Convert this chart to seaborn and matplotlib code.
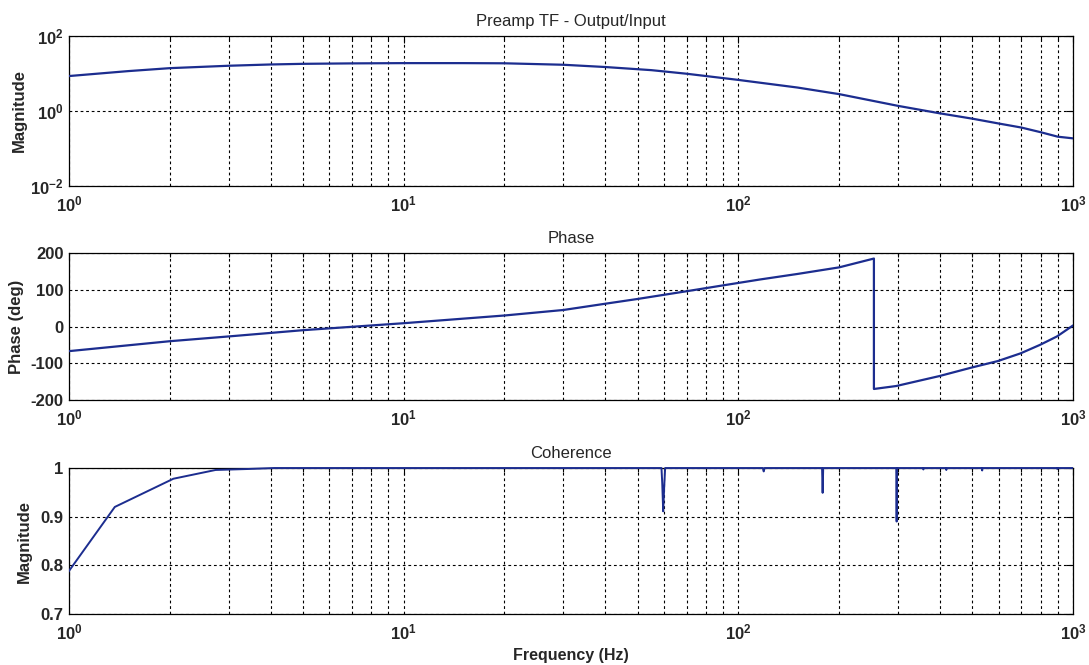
import numpy as np
import pandas as pd
import matplotlib
matplotlib.use("Agg")
import matplotlib.pyplot as plt
import seaborn as sns
from matplotlib.patches import Rectangle
from matplotlib.ticker import FixedLocator, FixedFormatter, NullLocator, LogLocator, NullFormatter

# ---------------- data ----------------
mag_freq = [1, 1.5, 2, 3, 4, 5, 7, 10, 15, 20, 30, 40, 55, 70, 100, 150, 200,
            300, 400, 500, 600, 700, 800, 900, 1000]
mag_vals = [8.5, 11.5, 13.8, 16.0, 17.3, 18.0, 18.5, 18.8, 18.8, 18.6, 17.0, 14.8, 12.2,
            9.8, 6.7, 4.2, 2.8, 1.36, 0.86, 0.62, 0.46, 0.36, 0.27, 0.205, 0.185]

phase_freq = [1, 2, 3, 5, 10, 20, 30, 40, 50, 70, 90, 116, 150, 200, 254, 254,
              296, 398, 496, 596, 697, 796, 895, 1000]
phase_vals = [-67, -40, -27, -10, 9, 30, 45, 62, 75, 96, 112, 128, 143, 161, 185, -170,
              -162, -135, -112, -94, -73, -50, -27, 3]

coh_freq = [0.684, 1.37, 2.05, 2.74, 3.42, 4.10, 10, 30, 58.9, 59.2, 59.6, 60.0, 60.4,
            118.3, 119, 119.7, 177.8, 178.5, 179.2, 296.2, 297, 297.8, 356.3, 357, 357.7,
            417.3, 418, 418.7, 534.3, 535, 535.7, 896.3, 897, 897.7, 1000]
coh_vals = [0.63, 0.92, 0.978, 0.996, 0.998, 1.0, 1.0, 1.0, 1.0, 0.97, 0.911, 0.96, 1.0,
            1.0, 0.993, 1.0, 1.0, 0.949, 1.0, 1.0, 0.89, 1.0, 1.0, 0.997, 1.0, 1.0, 0.996, 1.0,
            1.0, 0.995, 1.0, 1.0, 0.998, 1.0, 1.0]

x_ticks = [1, 10, 100, 1000]
x_ticklabels = [r"$10^{0}$", r"$10^{1}$", r"$10^{2}$", r"$10^{3}$"]
mag_yticks = [1e-2, 1, 1e2]
mag_yticklabels = [r"$10^{-2}$", r"$10^{0}$", r"$10^{2}$"]
phase_yticks = [-200, -100, 0, 100, 200]
phase_yticklabels = ["-200", "-100", "0", "100", "200"]
coh_yticks = [0.7, 0.8, 0.9, 1.0]
coh_yticklabels = ["0.7", "0.8", "0.9", "1"]

titles = ["Preamp TF - Output/Input", "Phase", "Coherence"]
ylabels = ["Magnitude", "Phase (deg)", "Magnitude"]
xlabel = "Frequency (Hz)"

# ---------------- style ----------------
sns.set_style("white")
plt.rcParams["font.family"] = ["Liberation Sans", "DejaVu Sans"]
plt.rcParams["mathtext.fontset"] = "custom"
plt.rcParams["mathtext.rm"] = "Liberation Sans:bold"
plt.rcParams["mathtext.bf"] = "Liberation Sans:bold"
plt.rcParams["mathtext.it"] = "Liberation Sans:bold"
plt.rcParams["mathtext.default"] = "bf"
plt.rcParams["axes.unicode_minus"] = False

LINE = "#1c2d8f"
GRID = dict(color="black", linestyle=(0, (2.5, 2.5)), linewidth=0.8)

fig = plt.figure(figsize=(10.89, 6.65), dpi=100)
fig.patch.set_facecolor("white")
ax1 = fig.add_axes([0.0634, 0.7205, 0.9220, 0.2255])
ax2 = fig.add_axes([0.0634, 0.3985, 0.9220, 0.2210])
ax3 = fig.add_axes([0.0634, 0.0767, 0.9220, 0.2195])

df_mag = pd.DataFrame({"f": mag_freq, "v": mag_vals})
df_ph = pd.DataFrame({"f": phase_freq, "v": phase_vals})
df_coh = pd.DataFrame({"f": coh_freq, "v": coh_vals})

sns.lineplot(data=df_mag, x="f", y="v", ax=ax1, color=LINE, lw=1.6,
             estimator=None, sort=False)
sns.lineplot(data=df_ph, x="f", y="v", ax=ax2, color=LINE, lw=1.6,
             estimator=None, sort=False)
sns.lineplot(data=df_coh, x="f", y="v", ax=ax3, color=LINE, lw=1.4,
             estimator=None, sort=False)

ax1.set_yscale("log")
ax1.set_ylim(1e-2, 1e2)
ax2.set_ylim(-200, 200)
ax3.set_ylim(0.7, 1.0)

label_x = [-0.042, -0.045, -0.037]
for i, ax in enumerate([ax1, ax2, ax3]):
    ax.set_xscale("log")
    ax.set_xlim(1, 1000)
    ax.xaxis.set_major_locator(FixedLocator(x_ticks))
    ax.xaxis.set_major_formatter(FixedFormatter(x_ticklabels))
    ax.xaxis.set_minor_locator(LogLocator(base=10, subs=np.arange(2, 10), numticks=20))
    ax.xaxis.set_minor_formatter(NullFormatter())
    ax.yaxis.set_minor_locator(NullLocator())
    ax.grid(True, which="major", axis="both", **GRID)
    ax.grid(True, which="minor", axis="x", **GRID)
    ax.tick_params(which="both", direction="in", top=True, right=True,
                   width=0.8, color="black", labelsize=12)
    ax.tick_params(which="major", length=5, pad=4)
    ax.tick_params(which="minor", length=3)
    ax.tick_params(axis="x", which="major", pad=6)
    for s in ax.spines.values():
        s.set_visible(True)
        s.set_color("black")
        s.set_linewidth(0.9)
    ax.set_title(titles[i], fontsize=12, pad=7)
    ax.set_ylabel(ylabels[i], fontsize=12, fontweight="bold")
    ax.yaxis.set_label_coords(label_x[i], 0.5)
    ax.set_xlabel("")
    ax.set_axisbelow(False)
    # let the curve show fully when it runs along the top/bottom frame
    clip = Rectangle((0, -0.02), 1, 1.04, transform=ax.transAxes,
                     facecolor="none", edgecolor="none")
    ax.add_patch(clip)
    for ln in ax.get_lines():
        ln.set_clip_path(clip)
        ln.set_zorder(3)

ax1.yaxis.set_major_locator(FixedLocator(mag_yticks))
ax1.yaxis.set_major_formatter(FixedFormatter(mag_yticklabels))
ax2.yaxis.set_major_locator(FixedLocator(phase_yticks))
ax2.yaxis.set_major_formatter(FixedFormatter(phase_yticklabels))
ax3.yaxis.set_major_locator(FixedLocator(coh_yticks))
ax3.yaxis.set_major_formatter(FixedFormatter(coh_yticklabels))
for ax in [ax1, ax2, ax3]:
    for lab in ax.get_xticklabels() + ax.get_yticklabels():
        lab.set_fontweight("bold")

ax3.set_xlabel(xlabel, fontsize=11.5, fontweight="bold", labelpad=4)

fig.savefig("out.png", dpi=100, facecolor="white")
